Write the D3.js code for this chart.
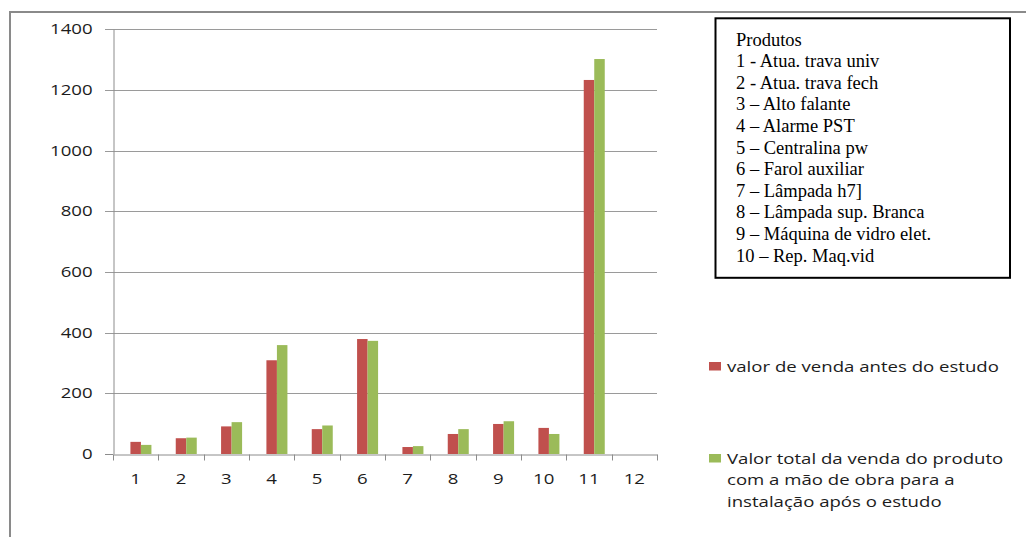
<!DOCTYPE html>
<html>
<head>
<meta charset="utf-8">
<script src="https://cdn.jsdelivr.net/npm/d3@7"></script>
<style>
  html, body { margin: 0; padding: 0; background: #ffffff; }
  svg { display: block; }
</style>
</head>
<body>
<svg id="chart" width="1026" height="537"></svg>
<script>
// Product numbers shown along the x axis
const categories = ["1", "2", "3", "4", "5", "6", "7", "8", "9", "10", "11", "12"];

// Sale value before the study (red series)
const valorAntes = [40, 52, 91, 309, 82, 379, 23, 66, 99, 86, 1233, null];

// Total sale value incl. installation labour after the study (green series)
const valorApos = [30, 54, 105, 359, 94, 373, 26, 82, 108, 66, 1302, null];

// Value axis ticks
const yTicks = [0, 200, 400, 600, 800, 1000, 1200, 1400];

// Series legend (second label wraps on three lines)
const legendAntes = ["valor de venda antes do estudo"];
const legendApos = ["Valor total da venda do produto", "com a mão de obra para a", "instalação após o estudo"];

// Product key box
const produtosTitulo = "Produtos";
const produtos = [
  "1 - Atua. trava univ",
  "2 - Atua. trava fech",
  "3 – Alto falante",
  "4 – Alarme PST",
  "5 – Centralina pw",
  "6 – Farol auxiliar",
  "7 – Lâmpada h7]",
  "8 – Lâmpada sup. Branca",
  "9 – Máquina de vidro elet.",
  "10 – Rep. Maq.vid"
];

// ---- styling ----
const RED = "#c0504d";
const GREEN = "#9bbb59";
const GRID = "#9a9a9a";
const AXIS = "#8c8c8c";
const TEXT = "#1c1c1c";
const SANS = "'Open Sans', Lato, sans-serif";
const SERIF = "'Liberation Serif', 'Times New Roman', serif";
const STRETCH = 1.3;   // the chart text is drawn horizontally widened
const FS = 14.3;

const svg = d3.select("#chart");

// outer frame (top and left edges)
svg.append("line").attr("x1", 10).attr("y1", 12).attr("x2", 1026).attr("y2", 12)
  .attr("stroke", "#8a8a8a").attr("stroke-width", 2);
svg.append("line").attr("x1", 10).attr("y1", 11).attr("x2", 10).attr("y2", 537)
  .attr("stroke", "#8a8a8a").attr("stroke-width", 2);

// plot area
const plot = { left: 113, right: 657, top: 29.3, bottom: 454 };

const x0 = d3.scaleBand()
  .domain(categories)
  .range([plot.left, plot.right])
  .paddingInner(0.305)
  .paddingOuter(0.1525);

// three slots per category; the first one stays empty
const x1 = d3.scaleBand()
  .domain(["vazio", "antes", "apos"])
  .range([0, x0.bandwidth()]);

const y = d3.scaleLinear()
  .domain([0, 1400])
  .range([plot.bottom, plot.top]);

// horizontal gridlines
svg.append("g")
  .selectAll("line")
  .data(yTicks.filter(t => t > 0))
  .join("line")
  .attr("x1", plot.left - 8)
  .attr("x2", plot.right)
  .attr("y1", d => Math.round(y(d)) + 0.5)
  .attr("y2", d => Math.round(y(d)) + 0.5)
  .attr("stroke", GRID)
  .attr("stroke-width", 1);

// bars
const rows = categories.map((c, i) => ({ cat: c, antes: valorAntes[i], apos: valorApos[i] }));

const groups = svg.append("g")
  .selectAll("g")
  .data(rows)
  .join("g")
  .attr("transform", d => `translate(${x0(d.cat)},0)`);

groups.selectAll("rect")
  .data(d => [
    { key: "antes", v: d.antes, color: RED },
    { key: "apos", v: d.apos, color: GREEN }
  ].filter(b => b.v != null))
  .join("rect")
  .attr("x", b => x1(b.key))
  .attr("width", x1.bandwidth())
  .attr("y", b => y(b.v))
  .attr("height", b => y(0) - y(b.v))
  .attr("fill", b => b.color);

// y axis
const yAxis = svg.append("g")
  .attr("transform", `translate(${plot.left + 0.5},0)`)
  .call(d3.axisLeft(y).tickValues(yTicks).tickFormat(d3.format("d"))
    .tickSize(0).tickPadding(21 / STRETCH));
yAxis.select(".domain").attr("stroke", AXIS);
yAxis.selectAll("text")
  .attr("font-family", SANS)
  .attr("font-size", FS)
  .attr("fill", TEXT)
  .attr("transform", `scale(${STRETCH},1)`);

// tick stub at the zero line
svg.append("line")
  .attr("x1", plot.left - 8).attr("x2", plot.left)
  .attr("y1", Math.round(y(0)) + 0.5).attr("y2", Math.round(y(0)) + 0.5)
  .attr("stroke", AXIS);

// x axis
const xAxis = svg.append("g")
  .attr("transform", `translate(0,${Math.round(plot.bottom) + 0.5})`)
  .call(d3.axisBottom(x0).tickSize(0).tickSizeOuter(0).tickPadding(19));
xAxis.select(".domain").attr("stroke", AXIS);
xAxis.selectAll("text")
  .attr("font-family", SANS)
  .attr("font-size", FS)
  .attr("fill", TEXT)
  .attr("transform", `scale(${STRETCH},1)`)
  .attr("x", 0);

// category boundary tick marks
const bounds = categories.map(c => x0(c) - x0.step() * x0.paddingOuter());
bounds.push(plot.right);
xAxis.selectAll("line.boundary")
  .data(bounds)
  .join("line")
  .attr("class", "boundary")
  .attr("x1", d => Math.round(d) + 0.5)
  .attr("x2", d => Math.round(d) + 0.5)
  .attr("y1", 0)
  .attr("y2", 6)
  .attr("stroke", AXIS);

// series legend
function legendEntry(color, lines, top) {
  const g = svg.append("g");
  g.append("rect")
    .attr("x", 709).attr("y", top)
    .attr("width", 12).attr("height", 8.5)
    .attr("fill", color);
  g.selectAll("text")
    .data(lines)
    .join("text")
    .attr("transform", (d, i) => `translate(727,${top + 9.5 + i * 21.8}) scale(${STRETCH},1)`)
    .attr("font-family", SANS)
    .attr("font-size", FS)
    .attr("fill", TEXT)
    .text(d => d);
}
legendEntry(RED, legendAntes, 362);
legendEntry(GREEN, legendApos, 454);

// product key box
const box = svg.append("g");
box.append("rect")
  .attr("x", 715.5).attr("y", 18.3)
  .attr("width", 294.5).attr("height", 259.5)
  .attr("fill", "#ffffff")
  .attr("stroke", "#000000")
  .attr("stroke-width", 2);
box.selectAll("text")
  .data([produtosTitulo, ...produtos])
  .join("text")
  .attr("x", 736)
  .attr("y", (d, i) => 45.5 + i * 21.6)
  .attr("font-family", SERIF)
  .attr("font-size", 18.5)
  .attr("fill", "#000000")
  .text(d => d);
</script>
</body>
</html>
